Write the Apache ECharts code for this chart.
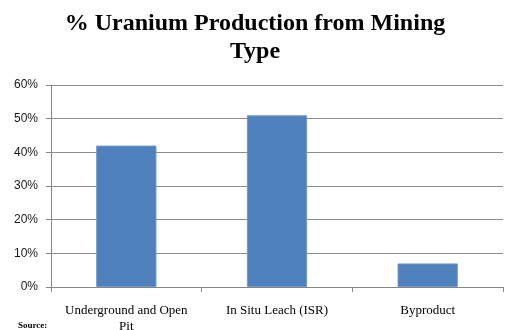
<!DOCTYPE html>
<html>
<head>
<meta charset="utf-8">
<script src="https://cdn.jsdelivr.net/npm/echarts@6/dist/echarts.min.js"></script>
<style>
  html, body { margin: 0; padding: 0; background: #ffffff; }
  #chart { width: 510px; height: 330px; }
</style>
</head>
<body>
<div id="chart"></div>
<script>
// Share of uranium production by mining method
var categories = ['Underground and Open\nPit', 'In Situ Leach (ISR)', 'Byproduct'];
var shares = [42, 51, 7];
var yTicks = [0, 10, 20, 30, 40, 50, 60];

var chart = echarts.init(document.getElementById('chart'), null, { renderer: 'canvas' });

chart.setOption({
  animation: false,
  backgroundColor: '#ffffff',
  title: {
    text: '% Uranium Production from Mining\nType',
    left: 'center',
    top: 5,
    textStyle: {
      fontFamily: 'Liberation Serif',
      fontWeight: 'bold',
      fontSize: 24,
      lineHeight: 28,
      color: '#000000'
    }
  },
  grid: { left: 51, right: 7, top: 85, bottom: 43, containLabel: false, outerBoundsMode: 'none' },
  xAxis: {
    type: 'category',
    data: categories,
    axisLine: { lineStyle: { color: '#868686', width: 1 } },
    axisTick: { show: true, alignWithLabel: false, length: 5, lineStyle: { color: '#868686' } },
    axisLabel: {
      fontFamily: 'Liberation Serif',
      fontSize: 13,
      color: '#000000',
      margin: 16,
      lineHeight: 16,
      interval: 0
    }
  },
  yAxis: {
    type: 'value',
    min: yTicks[0],
    max: yTicks[yTicks.length - 1],
    interval: 10,
    axisLine: { show: true, lineStyle: { color: '#868686', width: 1 } },
    axisTick: { show: true, length: 5, lineStyle: { color: '#868686' } },
    splitLine: { lineStyle: { color: '#8c8c8c', width: 1 } },
    axisLabel: {
      formatter: '{value}%',
      fontFamily: 'Liberation Sans',
      fontSize: 12,
      color: '#1a1a1a',
      margin: 13
    }
  },
  series: [{
    type: 'bar',
    data: shares,
    barWidth: '40%',
    itemStyle: { color: '#4F81BD', borderColor: '#6f98cc', borderWidth: 1 }
  }],
  graphic: [{
    type: 'text',
    left: 18,
    top: 321,
    style: {
      text: 'Source:',
      fontFamily: 'Liberation Serif',
      fontWeight: 'bold',
      fontSize: 9,
      fill: '#000000'
    }
  }]
});
</script>
</body>
</html>
